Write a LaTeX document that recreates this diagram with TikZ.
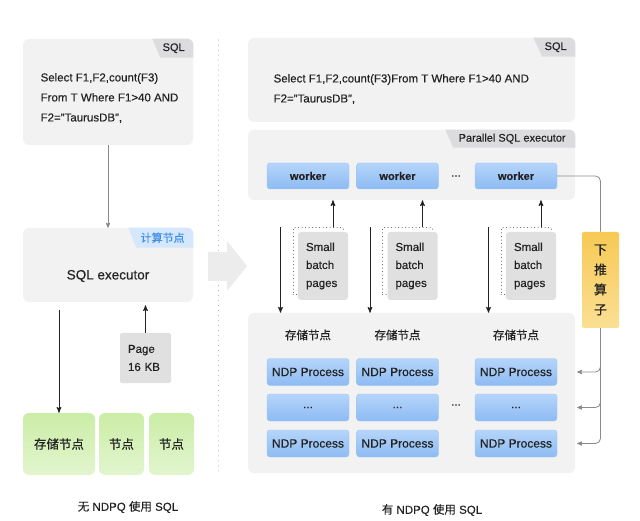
\documentclass[tikz,border=0pt]{standalone}
\usepackage{fontspec}
\setmainfont{Liberation Sans}[FakeBold=0.35]
\newfontfamily\cjk{Noto Sans CJK SC}[FakeBold=0.3]
\usetikzlibrary{arrows}
\definecolor{boxgray}{HTML}{F2F2F3}
\definecolor{taggray}{HTML}{DCDCDE}
\definecolor{pagegray}{HTML}{E0E0E0}
\definecolor{blueT}{HTML}{B5D5FA}
\definecolor{blueB}{HTML}{8DBBF3}
\definecolor{blueline}{HTML}{9CC4F4}
\definecolor{tagblue}{HTML}{D5E7FC}
\definecolor{tagbluetext}{HTML}{3D8DE6}
\definecolor{greenT}{HTML}{CBEDA6}
\definecolor{greenB}{HTML}{E2F5CE}
\definecolor{yelT}{HTML}{F7C955}
\definecolor{yelB}{HTML}{FADF94}
\definecolor{linegray}{HTML}{8A8A8A}
\definecolor{txt}{HTML}{222222}

\begin{document}
\begin{tikzpicture}[x=1pt,y=-1pt,>=stealth',semithick,
    every node/.style={text=txt,font=\fontsize{11.5}{20}\selectfont},
    box/.style={fill=boxgray,rounded corners=6pt,inner sep=0pt},
    tag/.style={font=\fontsize{11}{13}\selectfont},
    worker/.style={draw=blueline,thin,top color=blueT,bottom color=blueB,rounded corners=3pt,
      minimum width=82pt,minimum height=26pt,inner sep=0pt,font=\bfseries\fontsize{11}{13}\selectfont},
    ndp/.style={worker,minimum height=27pt,font=\fontsize{12}{14}\selectfont},
    dotbox/.style={draw=txt!80,line width=1pt,dash pattern=on 0.01pt off 3.5pt,line cap=round,
      minimum width=50pt,minimum height=67pt},
    batch/.style={fill=pagegray,rounded corners=3pt,minimum width=50pt,minimum height=68pt,
      inner xsep=8pt,text width=34pt,align=left,font=\fontsize{11.5}{18}\selectfont},
    green/.style={top color=greenT,bottom color=greenB,rounded corners=6pt,minimum height=62pt,
      inner sep=0pt,font=\cjk\fontsize{12.5}{15}\selectfont},
    conn/.style={draw=linegray,line width=0.8pt,rounded corners=5pt},
    arr/.style={->,line width=1pt,draw=txt}]
\useasboundingbox (0,0) rectangle (640,521);

% without NDPQ
\node[box,minimum width=170pt,minimum height=106pt] (sqlL) at (108,92) {};
\begin{scope}
  \clip[rounded corners=6pt] (sqlL.north west) rectangle (sqlL.south east);
  \fill[taggray] (sqlL.north east) -- ++(0,19) -- ++(-33,0) -- ++(-8,-19) -- cycle;
\end{scope}
\node[tag,anchor=east] at ([shift={(-5,9.5)}]sqlL.north east) {SQL};
\node[anchor=west,align=left] (qL) at (37,98) {Select F1,F2,count(F3)\\From T Where F1>40 AND\\F2="TaurusDB",};

\node[box,minimum width=170pt,minimum height=74pt] (exec) at (108,265) {};
\begin{scope}
  \clip[rounded corners=6pt] (exec.north west) rectangle (exec.south east);
  \fill[tagblue] (exec.north east) -- ++(0,20) -- ++(-57,0) -- ++(-8,-20) -- cycle;
\end{scope}
\node[tag,anchor=east,text=tagbluetext,font=\cjk\fontsize{11}{13}\selectfont] at ([shift={(-5,10)}]exec.north east) {计算节点};
\node[font=\fontsize{13.5}{16}\selectfont] (execL) at (108,276) {SQL executor};

\node[fill=pagegray,rounded corners=2pt,minimum width=51pt,minimum height=50pt,text width=35pt,
  inner xsep=8pt,align=left,font=\fontsize{11.5}{18}\selectfont] (page) at (145.5,358) {Page\\16 KB};

\node[green,minimum width=72pt] (g1) at (59,444) {存储节点};
\node[green,minimum width=45pt] (g2) at (121.5,444) {节点};
\node[green,minimum width=45pt] (g3) at (171.5,444) {节点};

\draw[->,conn] (sqlL) -- (exec);
\draw[arr] ([yshift=-8pt]exec.south -| g1.north) -- (g1.north);
\draw[arr] (page.north) -- ([yshift=-3pt]exec.south -| page.north);

\node (capL) at (128,507) {{\cjk 无} NDPQ {\cjk 使用} SQL};

% separator and big arrow
\draw[linegray!70,line width=1pt,dash pattern=on 0.01pt off 5pt,line cap=round] (218,40) -- (218,472);
\fill[gray!15] (208,252) -- (227,252) -- (227,241) -- (247,266) -- (227,291) -- (227,281) -- (208,281) -- cycle;

% with NDPQ
\node[box,minimum width=327pt,minimum height=84pt] (sqlR) at (411.5,80) {};
\begin{scope}
  \clip[rounded corners=6pt] (sqlR.north west) rectangle (sqlR.south east);
  \fill[taggray] (sqlR.north east) -- ++(0,19) -- ++(-33,0) -- ++(-9,-19) -- cycle;
\end{scope}
\node[tag,anchor=east] at ([shift={(-5,9.5)}]sqlR.north east) {SQL};
\node[anchor=west,align=left] (qR) at (270,89) {Select F1,F2,count(F3)From T Where F1>40 AND\\F2="TaurusDB",};

\node[box,minimum width=327pt,minimum height=70pt] (par) at (411.5,165) {};
\begin{scope}
  \clip[rounded corners=6pt] (par.north west) rectangle (par.south east);
  \fill[taggray] (par.north east) -- ++(0,18) -- ++(-122,0) -- ++(-8,-18) -- cycle;
\end{scope}
\node[tag,anchor=east] at ([shift={(-6,9)}]par.north east) {Parallel SQL executor};

\node[box,minimum width=327pt,minimum height=160pt] (store) at (411.5,393) {};

\foreach \i/\x in {1/308,2/397.5,3/516} {
  \node[worker] (w\i) at (\x,176) {worker};
  \node[dotbox] (d\i) at (\x+10,261.5) {};
  \node[batch] (b\i) at (\x+15,266) {Small\\batch\\pages};
  \node[font=\cjk\fontsize{11.5}{14}\selectfont] (h\i) at (\x,335) {存储节点};
  \node[ndp] (pa\i) at (\x,372) {NDP Process};
  \node[ndp] (pb\i) at (\x,407.5) {...};
  \node[ndp] (pc\i) at (\x,443.5) {NDP Process};
  \draw[arr] ([xshift=-12pt]d\i.north west) -- ([xshift=-12pt]d\i.north west |- store.north);
  \draw[arr] ([xshift=15pt]d\i.north) -- ([xshift=15pt]d\i.north |- par.south);
}
\node (dotsW) at (456,176) {...};
\node (dotsN) at (456,405) {...};

\node[top color=yelT,bottom color=yelB,rounded corners=2pt,minimum width=37pt,minimum height=96pt,
  align=center,font=\cjk\fontsize{13}{20}\selectfont] (push) at (600.5,280) {下\\推\\算\\子};
\draw[conn] (w3.east) -| (push.north);
\foreach \r in {pa3,pb3,pc3}
  \draw[conn,->] (push.south) |- ([xshift=20pt]\r.east);

\node (capR) at (432,510) {{\cjk 有} NDPQ {\cjk 使用} SQL};
\end{tikzpicture}
\end{document}
